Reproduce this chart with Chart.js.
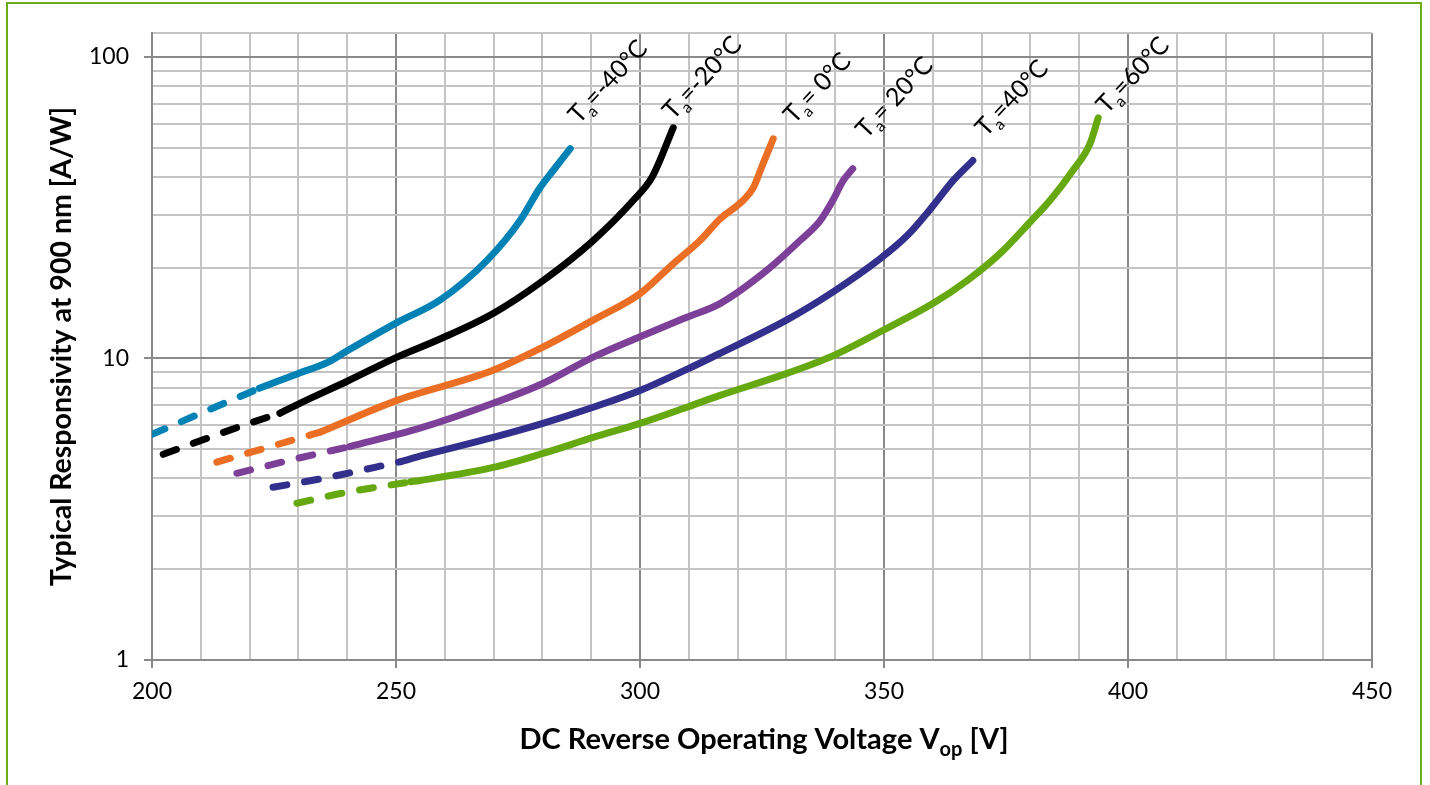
<!DOCTYPE html>
<html>
<head>
<meta charset="utf-8">
<title>Responsividade x Tensão</title>
<script src="https://cdn.jsdelivr.net/npm/chart.js@4.4.1/dist/chart.umd.min.js"></script>
<style>
  html, body { margin: 0; padding: 0; background: #fff; }
  #wrap { position: relative; width: 1430px; height: 785px; overflow: hidden; }
  #frame { position: absolute; left: 6px; top: 2px; width: 1416px; height: 900px; border: 2px solid #6aac1a; box-sizing: border-box; }
  canvas { position: absolute; left: 0; top: 0; }
</style>
</head>
<body>
<div id="wrap">
  <div id="frame"></div>
  <canvas id="grafico" width="1430" height="785"></canvas>
</div>
<script>
// --- DADOS ---

// Ta = -40°C
const vM40 = [200, 210, 222, 230, 236, 240, 250, 259, 268.6, 275.4, 279.5, 282.2, 285.7];
const rM40 = [5.6, 6.58, 7.96, 8.92, 9.7, 10.6, 13.1, 15.6, 21.1, 28.6, 36.8, 42, 49.6];
// Ta = -20°C
const vM20 = [202.3, 220, 226.2, 230.3, 240, 250.2, 259, 269.9, 280.1, 290.4, 298.6, 302.5, 306.8];
const rM20 = [4.81, 6.1, 6.58, 7.1, 8.4, 10.1, 11.6, 14.1, 18.1, 24.6, 33.4, 40, 58.2];
// Ta = 0°C
const vT0 = [213.3, 230, 234.5, 250.2, 269.9, 280.1, 290.4, 300, 306.8, 312.3, 316.4, 321.1, 323.2, 325.2, 327.3];
const rT0 = [4.53, 5.43, 5.7, 7.26, 9.13, 10.9, 13.4, 16.4, 20.6, 24.6, 29, 33.4, 36.8, 44.2, 53.5];
// Ta = 20°C
const vT20 = [217.4, 230, 240.5, 254.9, 269.9, 280.1, 290.4, 300, 309.6, 316.4, 326, 332.8, 336.9, 339.5, 341.6, 343.6];
const rT20 = [4.16, 4.67, 5.1, 5.87, 7.1, 8.26, 10.1, 11.8, 13.7, 15.2, 19.6, 24.6, 28.6, 33.4, 38.8, 42.6];
// Ta = 40°C
const vT40 = [224.8, 235, 251, 254.9, 269.9, 280.1, 290.4, 300, 309.6, 316.4, 330, 339.5, 349.2, 354.7, 360, 364.1, 368.2];
const rT40 = [3.74, 4.0, 4.55, 4.74, 5.47, 6.09, 6.89, 7.83, 9.2, 10.4, 13.4, 16.6, 21.4, 25.5, 32, 38.8, 45.3];
// Ta = 60°C
const vT60 = [229.7, 240, 253, 254.9, 269.9, 280.1, 290.4, 300, 309.6, 316.4, 330.1, 339.5, 349.8, 360, 367, 373.8, 380, 384, 388.7, 392.2, 393.9];
const rT60 = [3.31, 3.6, 3.9, 3.94, 4.35, 4.84, 5.47, 6.09, 6.89, 7.54, 8.92, 10.2, 12.4, 15.2, 18.1, 22.3, 28.4, 33.4, 42, 51.5, 62.8];

// tensão onde a curva tracejada vira contínua
const corteV = [222, 226.2, 234.5, 240.5, 251, 253];

// rótulos das curvas (texto depois de "Ta") e onde começam
const rotuloTxt = ['=-40°C', '=-20°C', '= 0°C', '= 20°C', '=40°C', '=60°C'];
const rotuloV = [287.5, 306.8, 331.6, 346.4, 370.9, 395.7];
const rotuloR = [59.6, 61.4, 59.6, 53.2, 53.9, 64.3];

// eixos
const xMin = 200, xMax = 450, xPasso = 10, xPassoRotulo = 50;
const yTicks = [1, 2, 3, 4, 5, 6, 7, 8, 9, 10, 20, 30, 40, 50, 60, 70, 80, 90, 100, 120];
const yRotulos = [1, 10, 100];

const cores = ['#0082b4', '#000000', '#ea6e23', '#7d4098', '#32308c', '#66a810'];

const curvas = [
    [vM40, rM40], [vM20, rM20], [vT0, rT0], [vT20, rT20], [vT40, rT40], [vT60, rT60]
];

// --- FUNÇÕES AUXILIARES ---

const FONTE = 'Lato';
const GRADE_FORTE = '#8a8a8a';
const GRADE_FRACA = '#c4c4c4';

function pontos(v, r, de, ate) {
    const out = [];
    for (let i = 0; i < v.length; i++) {
        if (v[i] >= de && v[i] <= ate) out.push({ x: v[i], y: r[i] });
    }
    return out;
}

const datasets = [];
curvas.forEach(([v, r], i) => {
    const base = {
        borderColor: cores[i],
        borderWidth: 7,
        borderCapStyle: 'round',
        borderJoinStyle: 'round',
        pointRadius: 0,
        cubicInterpolationMode: 'monotone',
        fill: false
    };
    // parte tracejada
    datasets.push(Object.assign({}, base, { data: pontos(v, r, -Infinity, corteV[i]), borderDash: [14, 18] }));
    // parte contínua
    datasets.push(Object.assign({}, base, { data: pontos(v, r, corteV[i], Infinity) }));
});

function ehDecada(v) {
    return yRotulos.includes(v);
}

// desenha rótulos "Ta=..." e o título do eixo X (com subscrito)
const textos = {
    id: 'textos',
    afterDatasetsDraw(chart) {
        const { ctx, scales: { x, y }, chartArea } = chart;
        ctx.save();
        ctx.fillStyle = '#000';
        ctx.textBaseline = 'alphabetic';
        ctx.textAlign = 'left';

        rotuloTxt.forEach((txt, i) => {
            const px = x.getPixelForValue(rotuloV[i]);
            const py = y.getPixelForValue(rotuloR[i]);
            ctx.save();
            ctx.translate(px, py);
            ctx.rotate(-47 * Math.PI / 180);
            ctx.font = '25px ' + FONTE;
            ctx.fillText('T', 0, 0);
            let w = ctx.measureText('T').width;
            ctx.font = '16px ' + FONTE;
            ctx.fillText('a', w, 6);
            w += ctx.measureText('a').width;
            ctx.font = '25px ' + FONTE;
            ctx.fillText(txt, w, 0);
            ctx.restore();
        });

        // título do eixo X
        const partes = [
            ['DC Reverse Operating Voltage V', 29, 0],
            ['op', 20, 7],
            [' [V]', 29, 0]
        ];
        let total = 0;
        partes.forEach(([t, tam]) => {
            ctx.font = 'bold ' + tam + 'px ' + FONTE;
            total += ctx.measureText(t).width;
        });
        let cx = (chartArea.left + chartArea.right) / 2 - total / 2 + 2;
        partes.forEach(([t, tam, dy]) => {
            ctx.font = 'bold ' + tam + 'px ' + FONTE;
            ctx.fillText(t, cx, 749 + dy);
            cx += ctx.measureText(t).width;
        });
        ctx.restore();
    }
};

// --- GRÁFICO ---

new Chart(document.getElementById('grafico'), {
    type: 'line',
    data: { datasets },
    options: {
        responsive: false,
        animation: false,
        devicePixelRatio: 1,
        layout: { padding: { top: 33, right: 58, left: 0, bottom: 0 } },
        plugins: { legend: { display: false }, tooltip: { enabled: false } },
        scales: {
            x: {
                type: 'linear',
                min: xMin,
                max: xMax,
                afterFit(s) { s.height = 125; },
                ticks: {
                    stepSize: xPasso,
                    autoSkip: false,
                    maxRotation: 0,
                    padding: 10,
                    color: '#000',
                    font: { family: FONTE, size: 23 },
                    callback: (v) => (v % xPassoRotulo === 0 ? String(v) : '')
                },
                grid: {
                    lineWidth: 2,
                    color: (c) => (c.tick && c.tick.value % xPassoRotulo === 0 ? GRADE_FORTE : GRADE_FRACA),
                    tickLength: 8,
                    tickWidth: 2,
                    tickColor: (c) => (c.tick && c.tick.value % xPassoRotulo === 0 ? GRADE_FORTE : 'rgba(0,0,0,0)')
                },
                border: { color: GRADE_FORTE, width: 2 }
            },
            y: {
                type: 'logarithmic',
                min: 1,
                max: 120,
                afterFit(s) { s.width = 152; },
                afterBuildTicks(s) { s.ticks = yTicks.map((v) => ({ value: v })); },
                ticks: {
                    autoSkip: false,
                    padding: 15,
                    color: '#000',
                    font: { family: FONTE, size: 23 },
                    callback: (v) => (ehDecada(v) ? String(v) : '')
                },
                grid: {
                    lineWidth: 2,
                    color: (c) => (c.tick && ehDecada(c.tick.value) ? GRADE_FORTE : GRADE_FRACA),
                    tickLength: 8,
                    tickWidth: 2,
                    tickColor: (c) => (c.tick && ehDecada(c.tick.value) ? GRADE_FORTE : 'rgba(0,0,0,0)')
                },
                border: { color: GRADE_FORTE, width: 2 },
                title: {
                    display: true,
                    text: 'Typical Responsivity at 900 nm [A/W]',
                    color: '#000',
                    font: { family: FONTE, size: 28.5, weight: 'bold' },
                    padding: { top: 45, bottom: 0 }
                }
            }
        }
    },
    plugins: [textos]
});
</script>
</body>
</html>
